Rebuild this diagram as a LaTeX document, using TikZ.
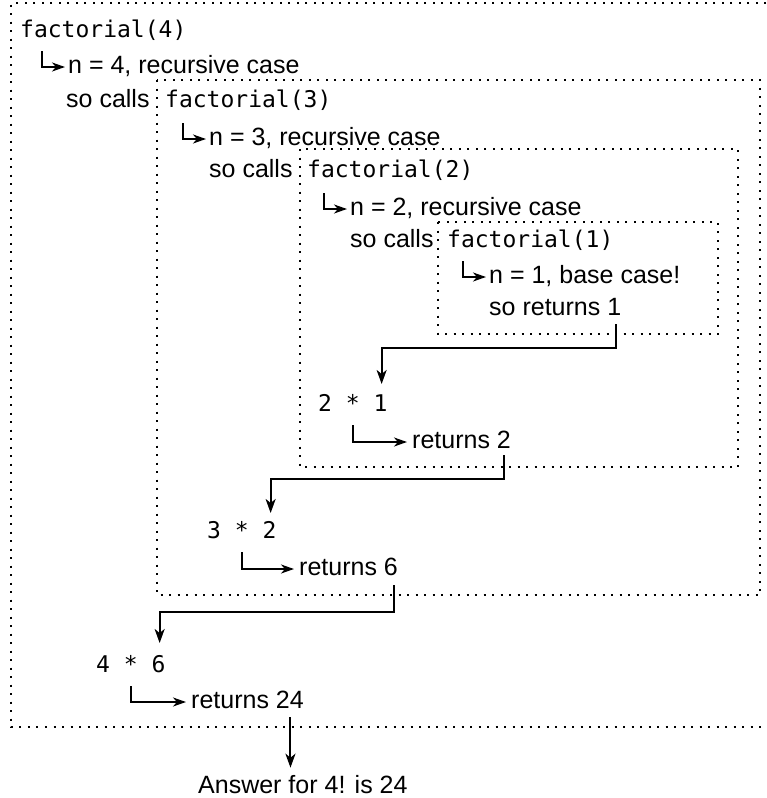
\documentclass[tikz,border=0pt]{standalone}
\usepackage{fontspec}
\setmainfont{Liberation Sans}
\newfontfamily\codefont{DejaVu Sans Mono}
\usetikzlibrary{arrows.meta}
\begin{document}
\begin{tikzpicture}[x=1pt,y=-1pt,
  frame/.style={line width=2pt, dash pattern=on 2pt off 6.5pt},
  txt/.style={inner sep=0pt, anchor=base west, font=\fontsize{25}{30}\selectfont},
  code/.style={inner sep=0pt, anchor=base west, font=\codefont\fontsize{23}{27}\selectfont},
  conn/.style={line width=2pt, -{Stealth[length=14pt,width=10pt,inset=4pt]}},
  hook/.style={line width=2pt, -{Stealth[length=13pt,width=9pt,inset=4pt]}}]
\useasboundingbox (0,0) rectangle (766,798);

% nested call frames
\draw[frame] (766,3) -- (11,3) -- (11,727) -- (766,727);
\draw[frame] (157,80) rectangle (760,595);
\draw[frame] (300,149) rectangle (738,467);
\draw[frame] (438,222) rectangle (718,334);

% factorial(4)
\node[code] (call4) at (20,37) {factorial(4)};
\node[txt] (n4) at (68,73) {n = 4, recursive case};
\node[txt] (calls4) at (66,107) {so calls};
% factorial(3)
\node[code] (call3) at (165,107) {factorial(3)};
\node[txt] (n3) at (209,145) {n = 3, recursive case};
\node[txt] (calls3) at (209,177) {so calls};
% factorial(2)
\node[code] (call2) at (307,177) {factorial(2)};
\node[txt] (n2) at (350,215) {n = 2, recursive case};
\node[txt] (calls2) at (350,247) {so calls};
% factorial(1)
\node[code] (call1) at (447,247) {factorial(1)};
\node[txt] (n1) at (489,283) {n = 1, base case!};
\node[txt] (ret1) at (489,315) {so returns 1};

% unwinding
\node[code] (m1) at (318,411) {2 * 1};
\node[txt] (ret2) at (412,448) {returns 2};
\node[code] (m2) at (207,538) {3 * 2};
\node[txt] (ret6) at (299,575) {returns 6};
\node[code] (m3) at (96,672) {4 * 6};
\node[txt] (ret24) at (191,708) {returns 24};
\node[txt] (ans) at (198,793) {Answer for 4! is 24};

% small hooks pointing to each case line
\foreach \t in {n4,n3,n2,n1}
  \draw[hook] ([xshift=-26pt,yshift=22pt]\t.base west) |- ([xshift=-3pt,yshift=6pt]\t.base west);
% hooks from each product to its result
\draw[hook] ([yshift=-14pt]m1.base) |- ([xshift=-5pt,yshift=6pt]ret2.base west);
\draw[hook] ([yshift=-14pt]m2.base) |- ([xshift=-5pt,yshift=6pt]ret6.base west);
\draw[hook] ([yshift=-14pt]m3.base) |- ([xshift=-5pt,yshift=6pt]ret24.base west);

% return values passed back to the caller
\draw[conn] ([xshift=-5pt,yshift=-9pt]ret1.base east) |- ([xshift=-6pt,yshift=63pt]m1.base east) -- ([xshift=-6pt,yshift=27pt]m1.base east);
\draw[conn] ([xshift=-7pt,yshift=-7pt]ret2.base east) |- ([xshift=-6pt,yshift=59pt]m2.base east) -- ([xshift=-6pt,yshift=25pt]m2.base east);
\draw[conn] ([xshift=-4pt,yshift=-10pt]ret6.base east) |- ([xshift=-6pt,yshift=60pt]m3.base east) -- ([xshift=-6pt,yshift=29pt]m3.base east);
\coordinate (d0) at ([xshift=-13.5pt,yshift=-9pt]ret24.base east);
\coordinate (d1) at (d0 |- ans.north);
\draw[conn] (d0) -- ([yshift=7pt]d1);
\end{tikzpicture}
\end{document}
